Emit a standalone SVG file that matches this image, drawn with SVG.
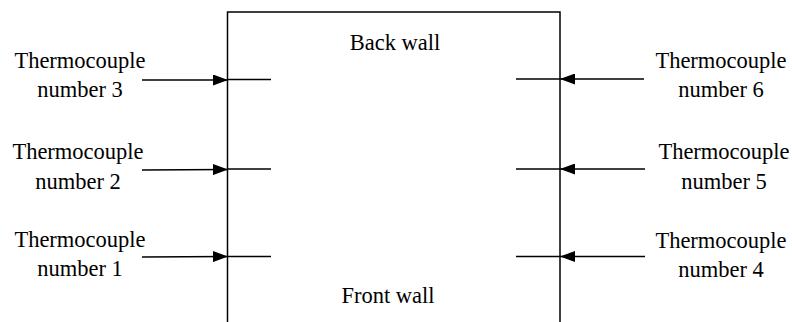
<svg xmlns="http://www.w3.org/2000/svg" width="792" height="322" viewBox="0 0 792 322">
<style>
.ln{stroke:#000;stroke-width:1.5;fill:none}
.tx{font-family:"Liberation Serif","Times New Roman",serif;font-size:22.5px;fill:#000;text-anchor:middle}
</style>
<defs>
<marker id="ah" markerWidth="15" markerHeight="11" refX="15" refY="5.5" orient="auto" markerUnits="userSpaceOnUse">
<path d="M0,0 L15,5.5 L0,11 Z" fill="#000"/>
</marker>
</defs>
<rect width="792" height="322" fill="#fff"/>
<g id="chamber">
<path class="ln" d="M227.5,330 V12 H560 V330"/>
<text class="tx" x="395" y="50">Back wall</text>
<text class="tx" x="388" y="303">Front wall</text>
</g>
<g id="tc3"><text class="tx" x="80" y="68">Thermocouple</text><text class="tx" x="80" y="97">number 3</text></g>
<g id="tc2"><text class="tx" x="78" y="159">Thermocouple</text><text class="tx" x="78" y="189">number 2</text></g>
<g id="tc1"><text class="tx" x="80" y="247">Thermocouple</text><text class="tx" x="80" y="276">number 1</text></g>
<g id="tc6"><text class="tx" x="721" y="68">Thermocouple</text><text class="tx" x="721" y="97">number 6</text></g>
<g id="tc5"><text class="tx" x="724" y="159">Thermocouple</text><text class="tx" x="724" y="189">number 5</text></g>
<g id="tc4"><text class="tx" x="721" y="248">Thermocouple</text><text class="tx" x="721" y="277">number 4</text></g>
<g id="connectors">
<line class="ln" x1="142" y1="80" x2="228" y2="80" marker-end="url(#ah)"/>
<line class="ln" x1="142" y1="170" x2="228" y2="169.5" marker-end="url(#ah)"/>
<line class="ln" x1="142" y1="257" x2="228" y2="256.5" marker-end="url(#ah)"/>
<line class="ln" x1="644" y1="79" x2="560" y2="79" marker-end="url(#ah)"/>
<line class="ln" x1="645" y1="169" x2="560" y2="169" marker-end="url(#ah)"/>
<line class="ln" x1="645" y1="256.5" x2="560" y2="256.5" marker-end="url(#ah)"/>
<line class="ln" x1="228" y1="79.5" x2="271" y2="79.5"/>
<line class="ln" x1="228" y1="169" x2="271" y2="169"/>
<line class="ln" x1="228" y1="256.5" x2="271" y2="256.5"/>
<line class="ln" x1="516" y1="79" x2="560" y2="79"/>
<line class="ln" x1="516" y1="169" x2="560" y2="169"/>
<line class="ln" x1="516" y1="256.5" x2="560" y2="256.5"/>
</g>
</svg>
